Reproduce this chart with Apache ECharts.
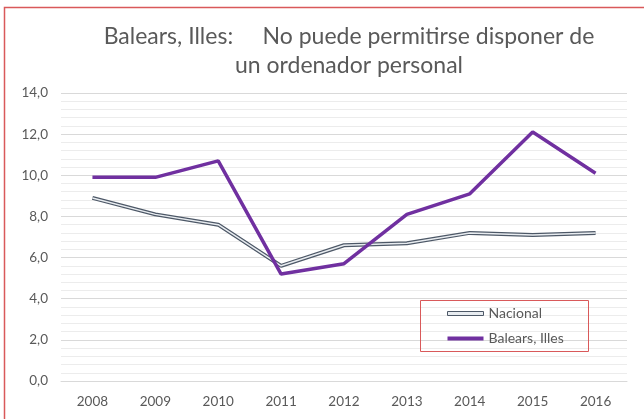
<!DOCTYPE html>
<html>
<head>
<meta charset="utf-8">
<script src="https://cdn.jsdelivr.net/npm/echarts@6/dist/echarts.min.js"></script>
<style>
html,body{margin:0;padding:0;background:#fff;}
#chart{width:644px;height:419px;}
</style>
</head>
<body>
<div id="chart"></div>
<script>
const years = ['2008','2009','2010','2011','2012','2013','2014','2015','2016'];
const nacional = [8.9, 8.1, 7.6, 5.6, 6.6, 6.7, 7.2, 7.1, 7.2];
const balears = [9.9, 9.9, 10.7, 5.2, 5.7, 8.1, 9.1, 12.1, 10.1];
const yTicks = { min: 0, max: 14, interval: 2 };

const chart = echarts.init(document.getElementById('chart'), null, {renderer: 'canvas'});
const fmt = v => v.toFixed(1).replace('.', ',');
const txt = '#595959';
chart.setOption({
  animation: false,
  backgroundColor: '#fff',
  title: {
    text: 'Balears, Illes:     No puede permitirse disponer de\nun ordenador personal',
    left: 349, top: 22, textAlign: 'center', padding: 0,
    textStyle: { fontFamily: 'Lato', fontSize: 23, fontWeight: 'normal', color: txt, lineHeight: 29 }
  },
  grid: { left: 61, right: 17, top: 93, bottom: 38 },
  legend: {
    orient: 'vertical', left: 447, top: 305, itemWidth: 36, itemHeight: 4, itemGap: 8, padding: 0,
    textStyle: { fontFamily: 'Lato', fontSize: 14, color: txt, lineHeight: 17 },
    data: [
      { name: 'Nacional', icon: 'rect', itemStyle: { color: '#e8ecf0', borderColor: '#4d5867', borderWidth: 1 } },
      { name: 'Balears, Illes', icon: 'rect', itemStyle: { color: '#7030a0' } }
    ]
  },
  graphic: [
    { type: 'rect', shape: { x: 4.5, y: 7.5, width: 700, height: 500 }, style: { fill: 'none', stroke: '#d9595a', lineWidth: 1.5 }, silent: true },
    { type: 'rect', shape: { x: 420.5, y: 300.5, width: 168, height: 51 }, style: { fill: 'none', stroke: '#d9595a', lineWidth: 1 }, silent: true, z: 10 }
  ],
  xAxis: {
    type: 'category', data: years, boundaryGap: true,
    axisLine: { lineStyle: { color: '#d9d9d9' } },
    axisTick: { show: false },
    axisLabel: { fontFamily: 'Lato', fontSize: 13.5, color: txt, margin: 14 }
  },
  yAxis: {
    type: 'value', min: yTicks.min, max: yTicks.max, interval: yTicks.interval,
    axisLine: { show: false }, axisTick: { show: false },
    axisLabel: { formatter: fmt, fontFamily: 'Lato', fontSize: 13.5, color: txt, margin: 13 },
    splitLine: { lineStyle: { color: '#d9d9d9' } },
    minorTick: { show: false, splitNumber: 5 },
    minorSplitLine: { show: true, lineStyle: { color: '#ececec' } }
  },
  series: [
    { name: 'Nacional', type: 'line', data: nacional, symbol: 'none', lineStyle: { color: '#4d5867', width: 4 }, itemStyle: { color: '#4d5867' }, z: 2 },
    { name: 'Nacional_inner', type: 'line', data: nacional, symbol: 'none', lineStyle: { color: '#e8ecf0', width: 1.5 }, z: 3 },
    { name: 'Balears, Illes', type: 'line', data: balears, symbol: 'none', lineStyle: { color: '#7030a0', width: 3.5 }, itemStyle: { color: '#7030a0' }, z: 4 }
  ]
});
</script>
</body>
</html>
